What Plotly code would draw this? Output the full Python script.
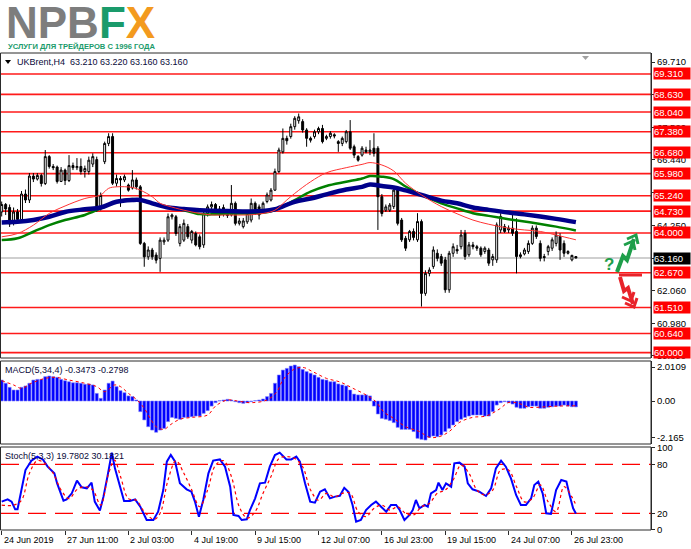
import plotly.graph_objects as go

W, H = 691, 549
def px(x): return x / W
def py(y): return 1 - y / H

# ---------------- data ----------------
OPEN = [64.70,64.95,64.85,64.35,64.70,64.45,65.30,65.10,65.90,65.80,
        65.92,65.65,66.55,66.22,66.20,65.72,66.10,65.75,66.25,66.18,
        66.22,66.05,66.05,66.30,66.45,64.85,66.38,66.99,67.22,65.66,
        65.82,65.77,65.60,65.50,65.77,65.54,63.65,63.20,63.43,63.26,
        63.15,63.70,63.76,64.54,64.54,63.65,63.76,64.21,63.76,63.98,
        63.87,63.60,64.65,64.87,64.95,64.80,64.65,64.65,64.60,64.99,
        64.32,64.21,64.37,64.43,64.99,64.87,64.76,65.05,65.10,65.43,
        66.05,66.71,67.16,67.22,67.55,67.75,67.72,67.44,67.16,67.22,
        67.38,67.49,67.16,67.22,67.28,67.05,66.99,67.05,67.38,66.88,
        66.55,66.60,66.77,66.71,66.83,66.83,65.21,64.76,64.76,64.88,
        65.44,64.43,63.82,63.77,64.05,63.77,64.38,61.98,62.65,62.88,
        63.32,63.21,63.10,62.10,63.32,63.45,63.54,63.99,63.27,63.60,
        63.54,63.49,63.38,63.43,63.10,63.10,64.10,64.21,64.10,64.16,
        64.05,63.21,63.30,63.38,63.65,64.16,63.65,63.21,63.38,63.49,
        63.65,63.88,63.65,63.32,63.10,63.21]
HIGH = [65.05,65.00,64.95,64.85,64.80,65.40,65.45,66.00,66.00,66.00,
        65.98,66.77,66.60,66.30,66.25,66.20,66.15,66.60,66.35,66.50,
        66.49,66.25,66.55,66.66,66.55,65.35,67.05,67.33,67.33,65.95,
        65.90,65.95,65.65,66.10,65.85,65.60,63.70,63.55,63.50,63.35,
        63.85,63.85,64.65,64.65,64.60,64.30,64.45,64.30,64.10,64.05,
        63.95,64.75,64.95,65.05,65.00,64.90,64.95,64.75,65.60,65.05,
        64.50,64.50,64.70,65.15,65.05,64.95,65.05,65.35,65.50,66.15,
        66.85,67.49,67.25,67.65,67.90,67.99,67.80,67.50,67.22,67.45,
        67.55,67.61,67.28,67.40,67.33,67.10,67.22,67.44,67.77,66.95,
        66.60,66.90,66.88,67.10,67.33,66.90,65.30,64.95,65.00,65.50,
        65.50,64.50,63.90,64.10,64.15,64.66,64.45,62.75,62.85,63.55,
        63.45,63.30,63.20,63.40,63.65,63.60,64.10,64.10,63.70,63.70,
        63.60,63.55,63.55,63.50,63.30,64.35,64.66,64.30,64.25,64.66,
        64.49,63.35,63.50,63.75,64.25,64.25,63.75,63.30,63.60,63.85,
        64.05,63.99,63.75,63.42,63.27,63.22]
LOW = [64.55,64.60,64.20,64.25,64.35,64.40,65.00,65.00,65.70,65.75,
       65.55,65.60,66.15,66.10,65.65,65.70,65.60,65.70,66.10,66.10,
       65.95,65.85,65.95,66.20,64.70,64.75,66.30,66.90,65.60,65.55,
       64.87,65.70,65.38,65.45,65.45,63.60,62.87,63.10,63.10,62.98,
       62.70,63.60,63.70,64.45,63.90,63.55,63.70,63.80,63.65,63.55,
       63.45,63.50,64.55,64.75,64.70,64.50,64.55,64.50,64.55,64.25,
       64.25,64.15,64.30,64.35,64.60,64.45,64.70,64.99,65.05,65.40,
       66.00,66.65,66.95,67.15,67.45,67.65,67.35,66.88,67.02,67.15,
       67.30,66.99,67.10,67.15,67.16,66.71,66.90,66.99,66.77,66.50,
       66.38,66.55,66.66,66.60,66.55,64.10,64.55,64.70,64.70,64.80,
       64.25,63.70,63.40,63.70,63.75,63.70,61.54,61.90,62.55,62.80,
       63.05,62.90,62.00,62.00,63.20,63.30,63.45,63.10,63.20,63.45,
       63.40,63.20,63.30,62.90,62.90,63.00,64.00,64.00,64.00,63.90,
       62.65,63.15,63.25,63.30,63.60,63.80,63.05,63.05,63.25,63.40,
       63.55,63.10,63.20,63.28,63.05,63.16]
CLOSE = [64.95,64.80,64.30,64.70,64.45,65.30,65.10,65.90,65.80,65.92,
         65.65,66.55,66.22,66.18,65.72,66.10,65.75,66.25,66.18,66.22,
         66.05,66.15,66.43,66.55,64.76,65.25,66.99,67.22,65.66,65.82,
         65.77,65.88,65.43,65.77,65.54,63.65,63.20,63.43,63.20,63.09,
         63.76,63.76,64.54,64.60,63.98,64.21,64.32,63.87,64.05,63.60,
         63.54,64.65,64.87,64.95,64.80,64.60,64.85,64.58,64.99,64.32,
         64.40,64.40,64.65,64.99,64.80,64.60,64.99,65.27,65.43,66.05,
         66.77,67.16,67.08,67.55,67.83,67.88,67.44,67.16,67.10,67.38,
         67.49,67.05,67.22,67.33,67.24,66.99,67.16,67.38,66.83,66.60,
         66.43,66.83,66.71,66.77,66.66,65.21,64.65,64.87,64.93,65.43,
         64.32,63.77,63.49,64.05,63.85,64.38,61.98,62.65,62.76,63.43,
         63.15,62.99,62.10,63.32,63.54,63.40,63.93,63.21,63.60,63.54,
         63.49,63.27,63.49,62.99,63.21,64.27,64.55,64.05,64.16,63.99,
         63.21,63.27,63.43,63.65,64.16,63.88,63.15,63.18,63.54,63.77,
         63.93,63.43,63.32,63.38,63.25,63.16]

MA_BLUE_X = [0,4,8,12,16,21,25,29,33,35,38,42,46,50,57,66,69,74,78,82,87,91,93,96,99,102,106,111,115,119,123,128,132,136,140,145]
MA_BLUE = [64.35,64.37,64.43,64.54,64.70,64.79,64.85,65.04,65.10,65.10,64.99,64.85,64.80,64.76,64.73,64.73,64.79,65.04,65.15,65.29,65.45,65.54,65.62,65.57,65.52,65.42,65.27,65.08,64.99,64.85,64.77,64.68,64.62,64.55,64.47,64.36]
MA_GREEN_X = [0,4,8,12,16,21,25,29,33,35,38,42,46,50,53,57,66,69,74,78,82,87,91,93,96,99,102,106,111,115,119,123,128,132,136,140,145]
MA_GREEN = [63.76,63.82,64.04,64.26,64.43,64.60,64.82,65.04,65.13,65.10,64.99,64.85,64.76,64.63,64.62,64.65,64.67,64.76,65.10,65.38,65.57,65.71,65.82,65.90,65.88,65.80,65.55,65.27,64.99,64.82,64.66,64.57,64.46,64.38,64.30,64.21,64.08]
MA_RED_X = [0,4,8,12,16,21,25,27,29,33,35,38,40,42,46,50,53,57,62,66,69,72,74,78,82,87,91,93,96,99,102,106,111,115,119,123,128,132,136,140,145]
MA_RED = [63.87,63.98,64.26,64.65,64.90,65.15,65.27,65.49,65.54,65.52,65.43,65.21,64.99,64.90,64.76,64.65,64.60,64.60,64.60,64.65,64.76,65.10,65.32,65.71,66.01,66.18,66.29,66.35,66.27,66.07,65.66,65.27,64.88,64.64,64.43,64.29,64.16,64.10,64.05,63.93,63.77]

MACD_HIST = [1.24,1.05,0.81,0.65,0.65,0.81,0.89,1.05,1.24,1.28,
             1.28,1.44,1.48,1.44,1.40,1.28,1.20,1.14,1.08,1.08,
             1.05,0.99,1.01,0.95,0.45,0.16,0.65,1.05,1.18,0.85,
             0.61,0.49,0.30,0.26,0.06,-0.63,-1.12,-1.52,-1.72,-1.85,
             -1.72,-1.62,-1.22,-0.97,-1.03,-1.08,-0.97,-0.97,-0.93,-0.89,
             -0.89,-0.73,-0.57,-0.30,-0.10,0.02,0.06,0.10,0.06,-0.04,
             -0.10,-0.14,-0.10,-0.04,0.02,0.06,0.12,0.26,0.45,1.05,
             1.54,1.83,1.93,2.07,2.13,2.03,1.87,1.74,1.64,1.54,
             1.40,1.28,1.24,1.14,1.14,1.01,0.95,0.89,0.65,0.41,
             0.36,0.36,0.36,0.30,-0.30,-0.77,-1.03,-1.08,-1.16,-1.28,
             -1.56,-1.68,-1.68,-1.68,-1.81,-2.21,-2.27,-2.31,-2.15,-2.07,
             -2.11,-2.01,-1.81,-1.62,-1.42,-1.22,-1.08,-0.97,-0.89,-0.83,
             -0.83,-0.83,-0.89,-0.89,-0.63,-0.24,-0.10,-0.04,-0.10,-0.18,
             -0.37,-0.43,-0.43,-0.34,-0.30,-0.30,-0.43,-0.43,-0.37,-0.34,
             -0.30,-0.30,-0.24,-0.30,-0.34,-0.3473]
MACD_SIG_X = [0,3,5,7.5,11,13.5,17,21,24,26,28.5,30,32,34,36,37.5,39,41,42.5,45,48,52,54,57,60,63,67,69.5,71,73.5,76,78.5,82,85.5,88.7,92,94.5,96.4,99,102,105.5,108,110.5,113,115.5,118.9,122.3,125.6,128.1,130.6,133.1,137.3,140.7,145]
MACD_SIG = [1.20,0.95,0.75,1.05,1.34,1.40,1.24,1.05,0.85,0.55,0.95,0.85,0.45,0.10,-0.43,-1.03,-1.52,-1.68,-1.42,-1.08,-0.97,-0.83,-0.30,0.06,-0.02,-0.10,0.06,0.55,1.24,1.83,1.99,1.74,1.34,1.12,0.75,0.36,-0.04,-0.63,-1.03,-1.52,-1.81,-2.15,-2.11,-1.81,-1.28,-0.97,-0.89,-0.49,-0.08,-0.14,-0.37,-0.34,-0.30,-0.2798]

STOCH_X = [0,1.5,2.5,3.4,4,5,6,7.5,9,10.4,11.6,13.3,14,15.6,16.4,17.7,19,20.2,21.5,22.7,23.5,24.8,25.7,26.7,27.8,28.6,29.9,30.9,32.4,33.7,35,36.6,38.3,39.5,40.8,41.7,42.7,43.8,45,46.7,47.9,48.8,49.8,50.9,52.2,53.4,55.1,56.4,57.7,58.5,59.8,60.6,61.9,62.7,64,65.2,66.5,67.7,69,70.2,71.9,73.1,74.4,75.3,76.6,77.9,79.1,80.4,81.6,82.9,84.2,85.4,86.5,87.6,88.6,89.5,90.7,92,93.3,94.5,95.8,97.1,98.3,99.6,100.5,101.7,103,103.8,104.6,105.5,106.8,107.6,108.4,109.7,110.3,111.3,112.2,113.5,114.3,115.6,116.9,117.7,118.9,120.6,122.3,123.6,124.8,126.1,127.3,128.6,129.9,131.1,132.4,133.7,134.5,135.5,136.6,137.5,138.7,140,141.3,142.6,143.4,144.3,145]
STOCH_MAIN = [34.3,37.1,34.3,24.9,24.9,48.5,73,84.5,89.4,86,77.1,69,56.7,35.5,37.1,44.5,60,51.8,50.6,57.5,34.3,23.3,40.4,64.9,94.3,75,52.6,35.1,35.1,37.1,28.1,11.8,11.8,22,48.5,83.2,91.4,83.2,56.7,49.4,46.5,34.3,15.9,36.3,69,84.5,86,77.1,52.6,18,16.7,11.8,12.6,24,38.3,56.7,57.5,77.1,91.4,94.3,86,86,89.4,83.2,56.7,34.3,33,46.5,49.4,38.3,40.4,41.5,51.2,46,30.2,9.8,11.8,24,30.2,34.3,28.1,22,30.2,30.2,24,11.8,18,24,36.3,26.1,30.2,28.1,44.5,48.5,57.5,48.5,56.7,52.6,81.2,82,77.1,56.7,49.4,46.5,41.2,50.6,75,84.5,77.1,62.8,42.4,30.2,30.2,38.3,54.7,58.8,44.5,20,19.2,48.5,60.8,58.8,42.4,26.1,19.7802]
STOCH_SIG_X = [0,3,5,7,9,11,13,15,17,19,21,23,25,27,28.5,30,32,34,36,38.5,40,42,44,46,48,50,52,54,56,58,60,62,64,66,68,70,72,74,76,78,80,82,84,86,88,90,92,94,96,98,100,102,104,106,108,110,112,114,116,118,120,122,124,126,128,130,132,134,136,138,140,142,144,145]
STOCH_SIG = [30,30,36,69,84.5,81,69,48.5,38,49,52.6,48.5,30,69,85,65,38,36,22,12.6,20,60.8,84.5,69,48.5,28,48.5,79,84.5,65,28,14,22,44.5,65,87,89.4,87,77,48.5,36,44.5,40,44.5,44.5,22,15.9,26,30,24,28,20,18,28,32,44.5,48.5,60.8,79,69,48.5,42.4,48.5,73,73,52.6,34,38,54.7,34,22,52.6,40,30.1821]

LEVELS = [69.31, 68.63, 68.04, 67.38, 66.68, 65.98, 65.24, 64.73, 64.00, 62.67, 61.51, 60.64, 60.00]
LAST_PRICE = 63.16
PRICE_TICKS = [69.71, 68.62, 67.52, 66.44, 65.35, 64.25, 63.16, 62.06, 60.98, 59.89]
MACD_TICKS = [2.0109, 0.0, -2.165]
MACD_TICKTEXT = ["2.0109", "0.00", "-2.165"]
STOCH_TICKS = [100, 80, 20, 0]
STOCH_LEVELS = [80, 20]
X_TICKS = [0, 16, 32, 48, 64, 80, 96, 112, 128, 144]
X_LABELS = ["24 Jun 2019", "27 Jun 11:00", "2 Jul 03:00", "4 Jul 19:00", "9 Jul 15:00",
            "12 Jul 07:00", "16 Jul 23:00", "19 Jul 15:00", "24 Jul 07:00", "26 Jul 23:00"]

BARS = list(range(len(OPEN)))
FONT = "Liberation Sans, Arial, sans-serif"

# ---------------- panel geometry (pixels) ----------------
X_LEFT, X_RIGHT = 1, 651
MAIN_T, MAIN_B = 53, 358
MACD_T, MACD_B = 361, 444
STO_T, STO_B = 447, 530
def price_at(y): return 69.31 - (y - 74) / 29.93
def macd_at(y): return (401 - y) / 16.9
def stoch_at(y): return 20 + (513.3 - y) / 0.8167
def bar_at(x): return (x - 1.7) / 3.96

fig = go.Figure()

fig.add_trace(go.Candlestick(
    x=BARS, open=OPEN, high=HIGH, low=LOW, close=CLOSE, xaxis='x', yaxis='y',
    increasing=dict(line=dict(color='black', width=1), fillcolor='white'),
    decreasing=dict(line=dict(color='black', width=1), fillcolor='black'),
    whiskerwidth=0, hoverinfo='none', showlegend=False))

fig.add_trace(go.Scatter(x=MA_GREEN_X, y=MA_GREEN, mode='lines', yaxis='y',
                         line=dict(color='#008000', width=2.5, shape='spline'), hoverinfo='none'))
fig.add_trace(go.Scatter(x=MA_BLUE_X, y=MA_BLUE, mode='lines', yaxis='y',
                         line=dict(color='#00008b', width=4.5, shape='spline'), hoverinfo='none'))
fig.add_trace(go.Scatter(x=MA_RED_X, y=MA_RED, mode='lines', yaxis='y',
                         line=dict(color='#ff3333', width=1, shape='spline'), hoverinfo='none'))

fig.add_trace(go.Bar(x=BARS, y=MACD_HIST, yaxis='y2', width=0.78,
                     marker=dict(color='#0000ff', line=dict(color='#7f7fff', width=0.6)),
                     hoverinfo='none'))
fig.add_trace(go.Scatter(x=MACD_SIG_X, y=MACD_SIG, mode='lines', yaxis='y2',
                         line=dict(color='#ff0000', width=1, dash='dot', shape='spline'), hoverinfo='none'))

fig.add_trace(go.Scatter(x=STOCH_X, y=STOCH_MAIN, mode='lines', yaxis='y3',
                         line=dict(color='#0000ff', width=2), hoverinfo='none'))
fig.add_trace(go.Scatter(x=STOCH_SIG_X, y=STOCH_SIG, mode='lines', yaxis='y3',
                         line=dict(color='#ff0000', width=1.2, dash='dot', shape='spline'), hoverinfo='none'))

shapes = []
for lv in LEVELS:
    shapes.append(dict(type='line', xref='paper', yref='y', x0=px(X_LEFT), x1=px(X_RIGHT),
                       y0=lv, y1=lv, line=dict(color='#ff1a1a', width=1.6), layer='below'))
shapes.append(dict(type='line', xref='paper', yref='y', x0=px(X_LEFT), x1=px(X_RIGHT),
                   y0=LAST_PRICE, y1=LAST_PRICE, line=dict(color='#cfcfcf', width=2), layer='below'))
for lv in STOCH_LEVELS:
    shapes.append(dict(type='line', xref='paper', yref='y3', x0=px(X_LEFT), x1=px(X_RIGHT),
                       y0=lv, y1=lv, line=dict(color='#ff0000', width=1.3, dash='18px,9px'), layer='below'))
for (t, b) in [(MAIN_T, MAIN_B), (MACD_T, MACD_B), (STO_T, STO_B)]:
    shapes.append(dict(type='rect', xref='paper', yref='paper', x0=px(0.5), x1=px(X_RIGHT),
                       y0=py(b), y1=py(t), line=dict(color='#2b2b2b', width=1), fillcolor='rgba(0,0,0,0)'))

def path(points):
    return 'M ' + ' L '.join(f'{px(x):.5f},{py(y):.5f}' for x, y in points)

shapes.append(dict(type='path', xref='paper', yref='paper',
                   path=path([(5, 60), (11, 60), (8, 64)]) + ' Z', fillcolor='black', line=dict(width=0)))
shapes.append(dict(type='path', xref='paper', yref='paper',
                   path=path([(582, 56), (589, 56), (585.5, 60)]) + ' Z', fillcolor='#a0a0a0', line=dict(width=0)))
G = '#1e9e4a'
R = '#e8232a'
shapes.append(dict(type='path', xref='paper', yref='paper',
                   path=path([(617, 272), (623, 256), (627, 260), (634, 239)]), line=dict(color=G, width=4)))
shapes.append(dict(type='path', xref='paper', yref='paper',
                   path=path([(627, 239), (636, 235), (638, 244)]), line=dict(color=G, width=3)))
shapes.append(dict(type='path', xref='paper', yref='paper',
                   path=path([(624, 245), (633, 241), (635, 250)]), line=dict(color=G, width=3)))
shapes.append(dict(type='line', xref='paper', yref='paper', x0=px(619), x1=px(642), y0=py(275), y1=py(275),
                   line=dict(color=R, width=3)))
shapes.append(dict(type='path', xref='paper', yref='paper',
                   path=path([(620, 277), (624, 291), (628, 288), (633, 304)]), line=dict(color=R, width=4)))
shapes.append(dict(type='path', xref='paper', yref='paper',
                   path=path([(625, 303), (634, 307), (637, 298)]), line=dict(color=R, width=3)))
shapes.append(dict(type='path', xref='paper', yref='paper',
                   path=path([(622, 297), (631, 301), (634, 292)]), line=dict(color=R, width=3)))

annotations = []
def ann(text, x, y, size=9, color='black', xanchor='left', yanchor='middle', **kw):
    annotations.append(dict(text=text, x=px(x), y=py(y), xref='paper', yref='paper',
                            xanchor=xanchor, yanchor=yanchor, showarrow=False,
                            font=dict(family=FONT, size=size, color=color), **kw))

ann("<b>NPB<span style='color:#1a9b6b'>F</span><span style='color:#f39a1e'>X</span></b>",
    4, 22.5, size=44, color='#7d7d7d')
ann("<b>УСЛУГИ ДЛЯ ТРЕЙДЕРОВ С 1996 ГОДА</b>", 6, 46, size=7.6, color='#1a9b6b')
ann("UKBrent,H4  63.210 63.220 63.160 63.160", 15, 62.5, color='#0a0a3a')
ann("MACD(5,34,4) -0.3473 -0.2798", 3, 369.5, color='#0a0a3a')
ann("Stoch(5,3,3) 19.7802 30.1821", 3, 455.5, color='#0a0a3a')
ann("<b>?</b>", 602, 264, size=17, color=G)

for lv in LEVELS:
    annotations.append(dict(text=f"{lv:.3f}", x=px(653), y=lv, xref='paper', yref='y',
                            xanchor='left', yanchor='middle', showarrow=False,
                            bgcolor='#ff0000', width=36, height=11, borderpad=0, align='left',
                            font=dict(family=FONT, size=9.5, color='white')))
annotations.append(dict(text=f"{LAST_PRICE:.3f}", x=px(653), y=LAST_PRICE, xref='paper', yref='y',
                        xanchor='left', yanchor='middle', showarrow=False,
                        bgcolor='#000000', width=36, height=11, borderpad=0, align='left',
                        font=dict(family=FONT, size=9.5, color='white')))
for xv, lab in zip(X_TICKS, X_LABELS):
    annotations.append(dict(text=lab, x=xv, y=py(540), xref='x', yref='paper',
                            xanchor='left', yanchor='middle', showarrow=False,
                            font=dict(family=FONT, size=9, color='black')))

yax_common = dict(side='right', anchor='x', showgrid=False, zeroline=False, showline=True,
                  linecolor='#2b2b2b', linewidth=1, ticks='outside', ticklen=3, tickcolor='#2b2b2b',
                  tickfont=dict(family=FONT, size=9.5, color='black'), fixedrange=True, automargin=False)

fig.update_layout(
    width=W, height=H, margin=dict(l=0, r=0, t=0, b=0, pad=0), autosize=False,
    paper_bgcolor='white', plot_bgcolor='white', showlegend=False,
    xaxis=dict(domain=[px(X_LEFT), px(X_RIGHT)], range=[bar_at(X_LEFT), bar_at(X_RIGHT)],
               anchor='y3', showgrid=False, zeroline=False, showline=False, automargin=False,
               tickvals=X_TICKS, ticks='outside', ticklen=4, tickcolor='#2b2b2b',
               showticklabels=False, rangeslider=dict(visible=False), fixedrange=True),
    yaxis=dict(domain=[py(MAIN_B), py(MAIN_T)], range=[price_at(MAIN_B), price_at(MAIN_T)],
               tickvals=PRICE_TICKS, ticktext=[f"{v:.3f}" for v in PRICE_TICKS], **yax_common),
    yaxis2=dict(domain=[py(MACD_B), py(MACD_T)], range=[macd_at(MACD_B), macd_at(MACD_T)],
                tickvals=MACD_TICKS, ticktext=MACD_TICKTEXT, **yax_common),
    yaxis3=dict(domain=[py(STO_B), py(STO_T)], range=[stoch_at(STO_B), stoch_at(STO_T)],
                tickvals=STOCH_TICKS, ticktext=[str(v) for v in STOCH_TICKS], **yax_common),
    shapes=shapes, annotations=annotations, bargap=0,
)

fig.write_html("out.html", config={'displayModeBar': False, 'staticPlot': True},
               post_script="document.body.style.margin='0px';document.body.style.overflow='hidden';")
